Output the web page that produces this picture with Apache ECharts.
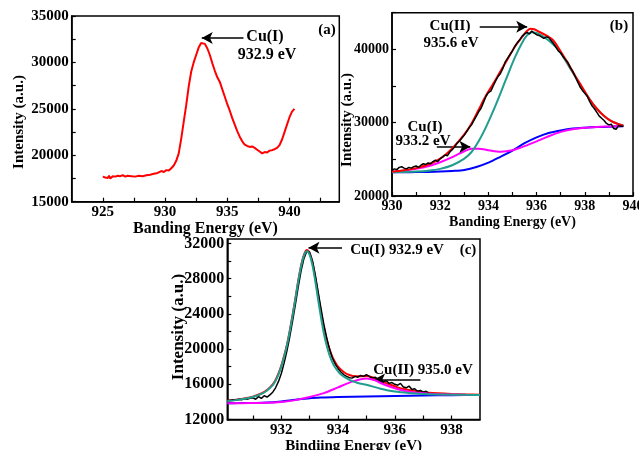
<!DOCTYPE html>
<html><head><meta charset="utf-8">
<script src="https://cdn.jsdelivr.net/npm/echarts@6/dist/echarts.min.js"></script>
<style>html,body{margin:0;padding:0;background:#fff}#c{width:639px;height:450px}</style>
</head><body><div id="c"></div>
<script>
// ---------- Panel (a) ----------
const aXLabels = [925, 930, 935, 940];
const aXTicks = [925, 927.5, 930, 932.5, 935, 937.5, 940, 942.5];
const aYLabels = [15000, 20000, 25000, 30000, 35000];
const aYTicks = [15000, 17500, 20000, 22500, 25000, 27500, 30000, 32500, 35000];
const aRed = [[925.0,17700],[925.1,17850],[925.2,17600],[925.3,17750],[925.4,17550],[925.5,17800],[925.6,17500],[925.8,17750],[926.0,17700],[926.2,17800],[926.4,17750],[926.6,17850],[926.8,17700],[927.0,17800],[927.3,17750],[927.6,17700],[927.9,17800],[928.2,17750],[928.5,17850],[928.8,17900],[929.1,18000],[929.4,18100],[929.7,18300],[929.9,18200],[930.1,18400],[930.3,18350],[930.5,18600],[930.7,18900],[930.9,19400],[931.1,20200],[931.3,21800],[931.5,23600],[931.7,25400],[931.9,27400],[932.1,29000],[932.3,30000],[932.5,30800],[932.7,31600],[932.9,32100],[933.0,32200],[933.2,32000],[933.4,31500],[933.6,30800],[933.8,29900],[934.0,29100],[934.2,28400],[934.4,27900],[934.6,27100],[934.8,26300],[935.0,25500],[935.2,24800],[935.4,24000],[935.6,23300],[935.8,22600],[936.0,22000],[936.2,21500],[936.4,21150],[936.6,21000],[936.8,20900],[937.0,20950],[937.2,20800],[937.4,20600],[937.6,20400],[937.8,20200],[938.0,20350],[938.2,20300],[938.4,20500],[938.6,20550],[938.8,20650],[939.0,20800],[939.2,21100],[939.4,21700],[939.6,22500],[939.8,23300],[940.0,24100],[940.2,24700],[940.4,25000]];
const aArrow = [[936.3,32630],[932.95,32630]];

// ---------- Panel (b) ----------
const bXLabels = [930, 932, 934, 936, 938, 940];
const bXTicks = [930,931,932,933,934,935,936,937,938,939,940];
const bYLabels = [20000, 30000, 40000];
const bYTicks = [20000, 25000, 30000, 35000, 40000, 45000];
const bBlue = [[930.0,23250],[930.5,23250],[931.0,23260],[931.5,23280],[932.0,23330],[932.5,23420],[933.0,23560],[933.5,23950],[934.0,24550],[934.5,25350],[935.0,26200],[935.5,27200],[936.0,28000],[936.5,28600],[937.0,28950],[937.5,29200],[938.0,29320],[938.5,29400],[939.0,29450],[939.6,29500]];
const bMagenta = [[930.0,23300],[930.5,23450],[931.0,23700],[931.5,24050],[932.0,24600],[932.5,25300],[933.0,26100],[933.3,26450],[933.6,26450],[934.0,26250],[934.5,26050],[935.0,26250],[935.5,26800],[936.0,27450],[936.5,28150],[937.0,28750],[937.5,29100],[938.0,29300],[938.5,29420],[939.0,29480],[939.6,29550]];
const bTeal = [[930.0,23250],[930.5,23280],[931.0,23330],[931.5,23450],[932.0,23700],[932.5,24200],[933.0,25100],[933.3,26000],[933.6,27500],[933.9,29400],[934.2,31600],[934.5,34000],[934.8,36500],[935.1,38900],[935.4,40900],[935.6,41900],[935.8,42350],[936.0,42250],[936.2,41900],[936.5,41200],[936.8,40300],[937.0,39500],[937.3,37900],[937.6,36300],[937.9,34700],[938.2,33200],[938.5,31900],[938.8,30900],[939.1,30200],[939.4,29800],[939.6,29600]];
const bRed = [[930.0,23300],[930.5,23500],[931.0,23800],[931.5,24300],[932.0,25100],[932.5,26500],[933.0,28400],[933.3,29900],[933.6,31800],[933.9,33700],[934.2,35300],[934.5,37000],[934.8,38700],[935.1,40400],[935.4,41700],[935.6,42500],[935.75,42800],[935.9,42750],[936.1,42400],[936.4,41900],[936.7,41200],[937.0,39700],[937.3,38100],[937.6,36400],[937.9,34800],[938.2,33200],[938.5,31900],[938.8,30900],[939.1,30200],[939.4,29800],[939.6,29600]];
const bRaw = [[930.0,23500],[930.1,23700],[930.2,23600],[930.3,23900],[930.4,24000],[930.5,23800],[930.6,23700],[930.7,23900],[930.8,23800],[930.9,24000],[931.0,24100],[931.1,23900],[931.2,24200],[931.3,24400],[931.4,24300],[931.5,24500],[931.6,24400],[931.7,24700],[931.8,24900],[931.9,24700],[932.0,25100],[932.1,25300],[932.2,25600],[932.3,25500],[932.4,26000],[932.5,26300],[932.6,26700],[932.7,27200],[932.8,27500],[932.9,27900],[933.0,28300],[933.1,28800],[933.2,29300],[933.3,29700],[933.4,30300],[933.5,30900],[933.6,31500],[933.7,32000],[933.8,32800],[933.9,33600],[934.0,34100],[934.1,34300],[934.2,35000],[934.3,35700],[934.4,36300],[934.5,36700],[934.6,37400],[934.7,38300],[934.8,38800],[934.9,39300],[935.0,39800],[935.1,40400],[935.2,40900],[935.3,41300],[935.4,41800],[935.5,42100],[935.6,42300],[935.7,42100],[935.8,42500],[935.9,42200],[936.0,42000],[936.1,41900],[936.2,41700],[936.3,41500],[936.4,41700],[936.5,41600],[936.6,41200],[936.7,40800],[936.8,40300],[936.9,39800],[937.0,39500],[937.1,39000],[937.2,38600],[937.3,38200],[937.4,37500],[937.5,37000],[937.6,36300],[937.7,35600],[937.8,34900],[937.9,34400],[938.0,34000],[938.1,33600],[938.2,32900],[938.3,32300],[938.4,31900],[938.5,31400],[938.6,30900],[938.7,30600],[938.8,30300],[938.9,29900],[939.0,29700],[939.1,29800],[939.2,29200],[939.3,29100],[939.4,29600],[939.5,29500],[939.6,29500]];
const bArrowCu2 = [[933.64,43090],[935.61,43090]];
const bArrowCu1 = [[931.86,26720],[933.25,26720]];

// ---------- Panel (c) ----------
const cXLabels = [932, 934, 936, 938];
const cXTicks = [931,932,933,934,935,936,937,938];
const cYLabels = [12000, 16000, 20000, 24000, 28000, 32000];
const cYTicks = [12000,14000,16000,18000,20000,22000,24000,26000,28000,30000,32000];
const cRaw = [[930.1,14200],[930.2,14150],[930.3,14250],[930.4,14200],[930.5,14300],[930.6,14250],[930.7,14350],[930.8,14300],[930.9,14400],[931.0,14450],[931.1,14300],[931.2,14600],[931.3,14400],[931.4,14700],[931.5,14550],[931.6,14800],[931.7,15100],[931.8,15600],[931.9,16300],[932.0,17200],[932.1,18400],[932.2,19800],[932.3,21400],[932.4,23200],[932.5,25100],[932.6,27100],[932.7,28900],[932.8,30300],[932.9,31100],[933.0,31000],[933.1,30000],[933.2,28400],[933.3,26500],[933.4,24600],[933.5,22800],[933.6,21300],[933.7,20000],[933.8,19000],[933.9,18300],[934.0,17800],[934.1,17400],[934.2,17100],[934.3,16900],[934.4,16750],[934.5,16700],[934.6,16900],[934.7,16800],[934.8,17000],[934.9,16900],[935.0,17100],[935.1,16900],[935.2,16700],[935.3,16800],[935.4,16600],[935.5,16500],[935.6,16300],[935.7,16400],[935.8,16100],[935.9,16200],[936.0,16000],[936.1,15900],[936.2,16100],[936.3,15700],[936.4,15600],[936.5,15800],[936.6,15400],[936.7,15500],[936.8,15200],[936.9,15300],[937.0,15100],[937.1,15200],[937.2,15000]];
const cRed = [[930.1,14150],[930.4,14250],[930.7,14400],[931.0,14600],[931.3,14950],[931.5,15350],[931.7,16000],[931.8,16500],[931.9,17200],[932.0,18100],[932.1,19200],[932.2,20500],[932.3,22100],[932.4,23900],[932.5,25800],[932.6,27800],[932.7,29500],[932.8,30700],[932.9,31250],[933.0,30900],[933.1,29800],[933.2,28100],[933.3,26100],[933.4,24200],[933.5,22500],[933.6,21100],[933.7,20000],[933.8,19100],[933.9,18500],[934.0,18000],[934.2,17400],[934.4,17050],[934.6,16900],[934.8,16900],[935.0,16950],[935.2,16800],[935.5,16400],[935.8,16000],[936.1,15650],[936.4,15400],[936.7,15250],[937.0,15100],[937.5,14980],[938.0,14900],[938.5,14850],[939.0,14800]];
const cBlue = [[930.1,13850],[930.5,13860],[931.0,13880],[931.5,13920],[932.0,14050],[932.5,14250],[933.0,14420],[933.5,14500],[934.0,14560],[935.0,14620],[936.0,14680],[937.0,14720],[938.0,14760],[939.0,14790]];
const cMagenta = [[930.1,13850],[930.5,13850],[931.0,13870],[931.5,13900],[932.0,14000],[932.5,14200],[933.0,14550],[933.5,15000],[934.0,15650],[934.5,16300],[935.0,16650],[935.3,16450],[935.6,16000],[936.0,15550],[936.5,15150],[937.0,14980],[937.5,14880],[938.0,14830],[938.5,14800],[939.0,14790]];
const cTeal = [[930.1,14100],[930.4,14200],[930.7,14350],[931.0,14550],[931.3,14900],[931.5,15300],[931.7,15900],[931.8,16400],[931.9,17100],[932.0,18000],[932.1,19100],[932.2,20400],[932.3,22000],[932.4,23800],[932.5,25700],[932.6,27700],[932.7,29400],[932.8,30600],[932.9,31100],[933.0,30700],[933.1,29500],[933.2,27700],[933.3,25600],[933.4,23600],[933.5,21800],[933.6,20400],[933.7,19300],[933.8,18500],[933.9,17900],[934.1,17100],[934.4,16500],[934.7,16150],[935.0,15950],[935.5,15500],[936.0,15170],[936.5,15000],[937.0,14900],[937.5,14850],[938.0,14820],[938.5,14800],[939.0,14790]];
const cArrowCu1 = [[934.14,31500],[932.96,31500]];
const cArrowCu2 = [[936.9,16530],[935.27,16530]];

// ---------- styles ----------
const FONT = "'Liberation Serif','Times New Roman',serif";
const TEAL = '#1f9d8e';
const plain = v => String(v);
function xAx(gi, min, max, labels, ticks, name, size, nameSize, gap) {
  return {
    type: 'value', gridIndex: gi, min: min, max: max,
    name: name, nameLocation: 'middle', nameGap: gap,
    nameTextStyle: {fontFamily: FONT, fontWeight: 'bold', fontSize: nameSize, color: '#000'},
    axisLine: {show: true, onZero: false, lineStyle: {color: '#000', width: 1.5}},
    axisTick: {show: true, inside: true, length: 4, customValues: ticks, lineStyle: {color: '#000', width: 1.2}},
    axisLabel: {show: true, customValues: labels, formatter: plain, hideOverlap: false, margin: 3, fontFamily: FONT, fontWeight: 'bold', fontSize: size, color: '#000'},
    splitLine: {show: false}
  };
}
function yAx(gi, min, max, labels, ticks, size) {
  return {
    type: 'value', gridIndex: gi, min: min, max: max,
    axisLine: {show: true, onZero: false, lineStyle: {color: '#000', width: 1.5}},
    axisTick: {show: true, inside: true, length: 4, customValues: ticks, lineStyle: {color: '#000', width: 1.2}},
    axisLabel: {show: true, customValues: labels, formatter: plain, margin: 3, fontFamily: FONT, fontWeight: 'bold', fontSize: size, color: '#000'},
    splitLine: {show: false}
  };
}
function line(idx, data, color, smooth, z) {
  return {type: 'line', xAxisIndex: idx, yAxisIndex: idx, data: data, showSymbol: false, symbol: 'none',
    smooth: smooth ? 0.3 : false, lineStyle: {color: color, width: 2}, itemStyle: {color: color}, z: z || 2, animation: false, silent: true};
}
function arrow(pts) {
  return {silent: true, animation: false, symbol: ['none', 'arrow'], symbolSize: [9, 11],
    label: {show: false}, lineStyle: {color: '#000', width: 1.5, type: 'solid'},
    data: [[{coord: pts[0]}, {coord: pts[1]}]]};
}
function txt(x, y, s, size, rot) {
  return {type: 'text', x: x, y: y, rotation: rot || 0, silent: true,
    style: {text: s, fontFamily: FONT, fontWeight: 'bold', fontSize: size, fill: '#000', align: 'center', verticalAlign: 'middle', textAlign: 'center', textVerticalAlign: 'middle'}};
}

const chart = echarts.init(document.getElementById('c'), null, {renderer: 'canvas'});

const sA = line(0, aRed, '#ff0000', false, 3); sA.markLine = arrow(aArrow);
const sBblue = line(1, bBlue, '#0000ff', true, 2);
const sBmag = line(1, bMagenta, '#ff00ff', true, 3);
const sBteal = line(1, bTeal, TEAL, true, 4);
const sBred = line(1, bRed, '#ff0000', true, 5);
const sBraw = line(1, bRaw, '#000000', false, 6); sBraw.lineStyle.width = 1.5;
sBred.markLine = arrow(bArrowCu2);
sBteal.markLine = arrow(bArrowCu1);
const sCred = line(2, cRed, '#ff0000', true, 2);
const sCraw = line(2, cRaw, '#000000', false, 3); sCraw.lineStyle.width = 1.5;
const sCblue = line(2, cBlue, '#0000ff', true, 4);
const sCmag = line(2, cMagenta, '#ff00ff', true, 5);
const sCteal = line(2, cTeal, TEAL, true, 6);
sCteal.markLine = arrow(cArrowCu1);
sCmag.markLine = arrow(cArrowCu2);

const gridBase = {show: true, borderColor: '#000', borderWidth: 1.5, backgroundColor: 'transparent', containLabel: false, outerBoundsMode: 'none'};
chart.setOption({
  animation: false,
  backgroundColor: '#ffffff',
  grid: [
    Object.assign({left: 71.7, top: 16, width: 267.6, height: 185.7}, gridBase),
    Object.assign({left: 392, top: 12.7, width: 241, height: 183.3}, gridBase),
    Object.assign({left: 227.3, top: 239, width: 252.7, height: 180.5}, gridBase)
  ],
  xAxis: [
    xAx(0, 922.5, 944, aXLabels, aXTicks, 'Banding Energy (eV)', 15, 16, 14),
    xAx(1, 930, 940, bXLabels, bXTicks, 'Banding Energy (eV)', 14, 14, 19),
    xAx(2, 930.1, 939, cXLabels, cXTicks, 'Bindiing Energy (eV)', 15, 15, 15)
  ],
  yAxis: [
    yAx(0, 15000, 35000, aYLabels, aYTicks, 15),
    yAx(1, 20000, 45000, bYLabels, bYTicks, 14),
    yAx(2, 12000, 32500, cYLabels, cYTicks, 16)
  ],
  series: [sA, sBblue, sBmag, sBteal, sBred, sBraw, sCred, sCraw, sCblue, sCmag, sCteal],
  graphic: [
    txt(19, 122, 'Intensity (a.u.)', 15, Math.PI / 2),
    txt(347, 120, 'Intensity (a.u.)', 15, Math.PI / 2),
    txt(179, 327, 'Intensity (a.u.)', 17, Math.PI / 2),
    txt(265, 37, 'Cu(I)', 16),
    txt(267, 55, '932.9 eV', 16),
    txt(327, 30, '(a)', 15),
    txt(450, 26, 'Cu(II)', 15),
    txt(451, 43, '935.6 eV', 15),
    txt(619, 26, '(b)', 15),
    txt(425, 127, 'Cu(I)', 15),
    txt(423, 141, '933.2 eV', 15),
    txt(397, 250, 'Cu(I) 932.9 eV', 15),
    txt(468, 250, '(c)', 15),
    txt(423, 370, 'Cu(II) 935.0 eV', 15)
  ]
});
</script>
</body></html>
